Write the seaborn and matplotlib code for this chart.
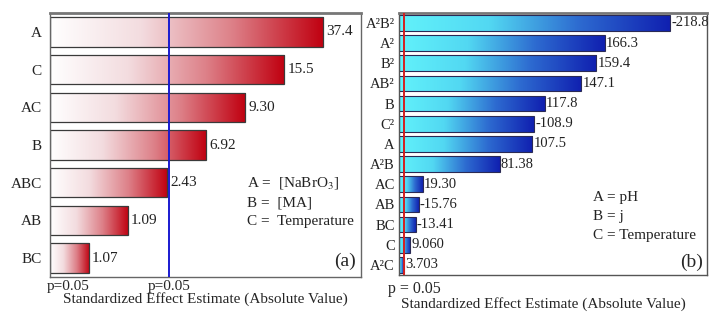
import numpy as np
import pandas as pd
import matplotlib
matplotlib.use("Agg")
import matplotlib.pyplot as plt
from matplotlib.colors import LinearSegmentedColormap
import seaborn as sns

sns.set_style("white")
plt.rcParams['font.family'] = ['Liberation Serif', 'DejaVu Serif']
plt.rcParams['mathtext.fontset'] = 'stix'

# Panel (a) data
terms_a = ["A", "C", "AC", "B", "ABC", "AB", "BC"]
effects_a = [37.4, 15.5, 9.30, 6.92, 2.43, 1.09, 1.07]
labels_a = ["37.4", "15.5", "9.30", "6.92", "2.43", "1.09", "1.07"]
pcrit_a = 2.65
legend_a = ["A =  [NaBrO$_3$]", "B =  [MA]", "C =  Temperature"]

# Panel (b) data
terms_b = ["A²B²", "A²", "B²", "AB²", "B", "C²", "A", "A²B", "AC", "AB", "BC", "C", "A²C"]
effects_b = [-218.8, 166.3, 159.4, 147.1, 117.8, -108.9, 107.5, 81.38, 19.30, -15.76, -13.41, 9.060, 3.703]
labels_b = ["-218.8", "166.3", "159.4", "147.1", "117.8", "-108.9", "107.5", "81.38",
            "19.30", "-15.76", "-13.41", "9.060", "3.703"]
pcrit_b = 3.9
legend_b = ["A = pH", "B = j", "C = Temperature"]

df_a = pd.DataFrame({"term": terms_a, "effect": np.abs(effects_a)})
# Pareto bars in panel (a) are drawn with equal steps: length = rank of |effect|
df_a["rank"] = df_a["effect"].rank()
df_b = pd.DataFrame({"term": terms_b, "effect": np.abs(effects_b)})

red_cmap = LinearSegmentedColormap.from_list("wr", ["#ffffff", "#f3dcdf", "#dd8088", "#c00010"])
blue_cmap = LinearSegmentedColormap.from_list("cb", ["#62f2fb", "#52d8f2", "#2d6ad0", "#1020b0"])
grad = np.linspace(0, 1, 256).reshape(1, -1)


def gradient_bars(ax, cmap):
    for p in list(ax.patches):
        x0, y0, w, h = p.get_x(), p.get_y(), p.get_width(), p.get_height()
        im = ax.imshow(grad, cmap=cmap, aspect="auto", extent=[x0, x0 + w, y0 + h, y0],
                       zorder=1.5, interpolation="bicubic")
        im.set_clip_path(p)
        p.set_facecolor("none")
        p.set_zorder(2)


fig = plt.figure(figsize=(7.1, 3.12), dpi=100)

# ---------------- panel (a) ----------------
ax1 = fig.add_axes([0.0704, 0.1122, 0.438, 0.846])
sns.barplot(data=df_a, x="rank", y="term", orient="h", color="white",
            edgecolor="#3a3a3a", linewidth=0.9, width=0.78, ax=ax1)
gradient_bars(ax1, red_cmap)
ax1.set_xlim(0, 7.97)
ax1.set_ylim(6.5, -0.5)
pline_a = np.interp(pcrit_a, np.sort(df_a["effect"]), np.sort(df_a["rank"]))
ax1.axvline(pline_a, color="#1a1ad0", lw=1.4, zorder=3)
for i, (r, lab) in enumerate(zip(df_a["rank"], labels_a)):
    ax1.text(r + 0.08, i, lab, va="center", ha="left", fontsize=11, color="#222222")
ax1.set_xticks([])
ax1.set_xlabel("")
ax1.set_ylabel("")
ax1.tick_params(axis="y", length=0, pad=6, labelsize=11)
for lab in ax1.get_yticklabels():
    lab.set_color("#222222")
for s in ["left", "bottom", "right"]:
    ax1.spines[s].set_color("#666666")
    ax1.spines[s].set_linewidth(1.0)
ax1.spines["top"].set_color("#777777")
ax1.spines["top"].set_linewidth(2.0)
for k, t in enumerate(legend_a):
    ax1.text(0.635, 0.355 - k * 0.073, t, transform=ax1.transAxes, fontsize=11,
             va="center", ha="left", color="#222222")
ax1.text(0.985, 0.06, "(a)", transform=ax1.transAxes, fontsize=14, ha="right", va="center")
ax1.text(-0.01, -0.01, "p=0.05", transform=ax1.transAxes, fontsize=11, ha="left", va="top")
ax1.text(pline_a, -0.01, "p=0.05", transform=ax1.get_xaxis_transform(), fontsize=11,
         ha="center", va="top")
ax1.text(0.5, -0.058, "Standardized Effect Estimate (Absolute Value)", transform=ax1.transAxes,
         fontsize=11, ha="center", va="top")

# ---------------- panel (b) ----------------
ax2 = fig.add_axes([0.562, 0.1186, 0.434, 0.840])
sns.barplot(data=df_b, x="effect", y="term", orient="h", color="white",
            edgecolor="#2a2a55", linewidth=0.8, width=0.78, ax=ax2)
gradient_bars(ax2, blue_cmap)
ax2.set_xlim(0, 249)
ax2.set_ylim(12.5, -0.5)
ax2.axvline(pcrit_b, color="#d42020", lw=1.4, zorder=3)
for i, (v, lab) in enumerate(zip(df_b["effect"], labels_b)):
    ax2.text(v + 1.0, i, lab, va="center", ha="left", fontsize=10.5, color="#222222")
ax2.set_xticks([])
ax2.set_xlabel("")
ax2.set_ylabel("")
ax2.tick_params(axis="y", length=0, pad=3, labelsize=10.5)
for lab in ax2.get_yticklabels():
    lab.set_color("#222222")
for s in ["left", "bottom", "right"]:
    ax2.spines[s].set_color("#555555")
    ax2.spines[s].set_linewidth(1.0)
ax2.spines["top"].set_color("#777777")
ax2.spines["top"].set_linewidth(2.0)
for k, t in enumerate(legend_b):
    ax2.text(0.63, 0.295 - k * 0.073, t, transform=ax2.transAxes, fontsize=11,
             va="center", ha="left", color="#222222")
ax2.text(0.985, 0.05, "(b)", transform=ax2.transAxes, fontsize=14, ha="right", va="center")
ax2.text(-0.035, -0.022, "p = 0.05", transform=ax2.transAxes, fontsize=11.5, ha="left", va="top")
ax2.text(0.47, -0.083, "Standardized Effect Estimate (Absolute Value)", transform=ax2.transAxes,
         fontsize=11, ha="center", va="top")

fig.savefig("out.png", dpi=100)
